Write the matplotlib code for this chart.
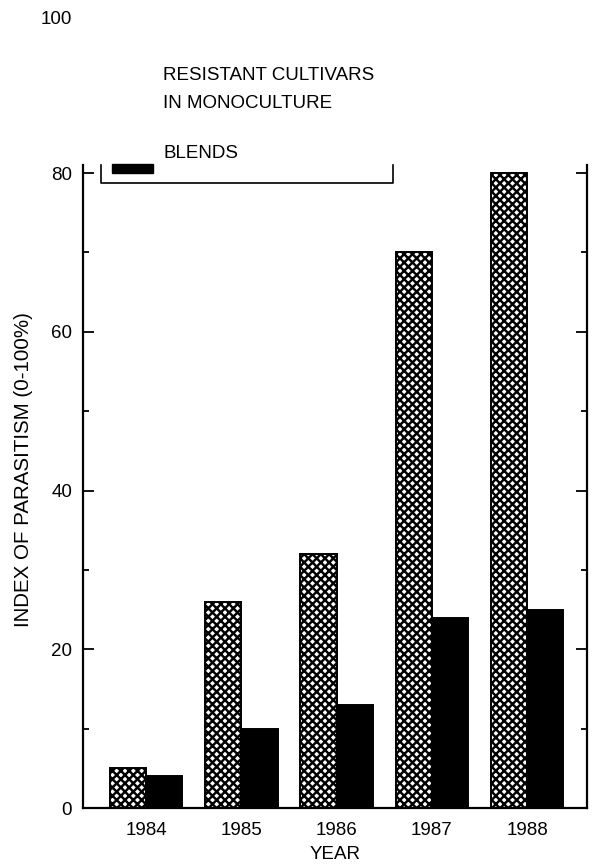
import numpy as np
import matplotlib
matplotlib.use("Agg")
import matplotlib.pyplot as plt
from matplotlib.patches import Rectangle
from matplotlib.ticker import MultipleLocator

years = ['1984', '1985', '1986', '1987', '1988']
monoculture = [5, 26, 32, 70, 80]
blends = [4, 10, 13, 24, 25]

plt.rcParams['font.family'] = ['Liberation Sans', 'DejaVu Sans']
plt.rcParams['hatch.linewidth'] = 1.75

fig = plt.figure(figsize=(5.93, 8.64), dpi=100)
ax = fig.add_axes([0.1405, 0.0648, 0.849, 0.744])

x = np.arange(len(years))  # group positions
width = 0.38

ax.bar(x - width / 2, monoculture, width, color='white', edgecolor='black',
       hatch='xxxx', linewidth=1.4, label='RESISTANT CULTIVARS\nIN MONOCULTURE')
ax.bar(x + width / 2, blends, width, color='black', edgecolor='black',
       linewidth=1.4, label='BLENDS')

ax.set_xlim(-0.661, 4.627)
ax.set_ylim(0, 81.0)
ax.set_xticks(x)
ax.set_xticklabels(years)
ax.yaxis.set_major_locator(MultipleLocator(20))
ax.yaxis.set_minor_locator(MultipleLocator(10))

for s in ['left', 'right', 'bottom']:
    ax.spines[s].set_linewidth(1.6)
ax.spines['top'].set_visible(False)

ax.tick_params(axis='y', which='both', direction='in', left=True, right=True,
               width=1.3, labelsize=13.5, pad=8)
ax.tick_params(axis='y', which='major', length=8)
ax.tick_params(axis='y', which='minor', length=4.5)
ax.tick_params(axis='x', length=0, labelsize=13.5, pad=10)

ax.set_xlabel('YEAR', fontsize=13.5, labelpad=5)
ax.set_ylabel('INDEX OF PARASITISM (0-100%)', fontsize=14.8)
ax.yaxis.set_label_coords(-0.099, 0.526)

# stray top tick label from the original figure
ax.text(-0.022, 99.3, '100', transform=ax.get_yaxis_transform(), ha='right',
        va='center', fontsize=13.5, clip_on=False)

# hand-drawn legend (only the blends key survived in the original)
tr = ax.transAxes
ax.text(0.159, 1.140, 'RESISTANT CULTIVARS', transform=tr, fontsize=13.5,
        va='center', clip_on=False)
ax.text(0.159, 1.0964, 'IN MONOCULTURE', transform=tr, fontsize=13.5,
        va='center', clip_on=False)
ax.text(0.159, 1.0187, 'BLENDS', transform=tr, fontsize=13.5,
        va='center', clip_on=False)
ax.add_patch(Rectangle((0.0575, 0.9876), 0.0814, 0.014, transform=tr,
                       color='black', clip_on=False))
ax.plot([0.0357, 0.0357, 0.615, 0.615], [1.0, 0.972, 0.972, 1.0], transform=tr,
        color='black', linewidth=1.2, clip_on=False)

fig.savefig('out.png', dpi=100)
